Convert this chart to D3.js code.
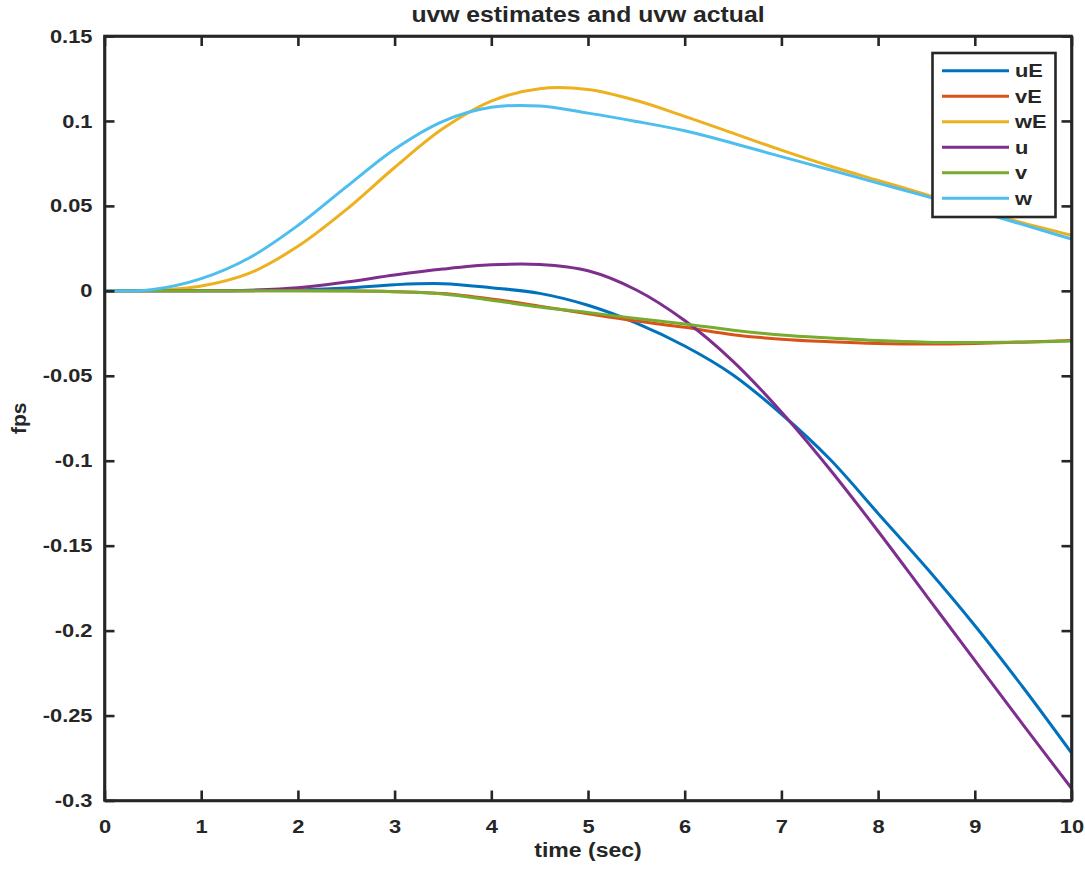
<!DOCTYPE html>
<html>
<head>
<meta charset="utf-8">
<script src="https://cdn.jsdelivr.net/npm/d3@7"></script>
<style>
  html, body { margin: 0; padding: 0; background: #ffffff; }
  svg { display: block; }
  text { font-family: "Liberation Sans", Arial, sans-serif; font-weight: bold; fill: #262626; }
</style>
</head>
<body>
<svg id="chart" width="1085" height="871"></svg>
<script>
// ---- data ----
const time = [0,0.5,1,1.5,2,2.5,3,3.5,4,4.5,5,5.5,6,6.5,7,7.5,8,8.5,9,9.5,10];
const uE = [0,0,0,0.0001,0.0005,0.0016,0.0036,0.0042,0.0018,-0.0015,-0.0085,-0.019,-0.0325,-0.0495,-0.0725,-0.099,-0.131,-0.163,-0.197,-0.2335,-0.272];
const vE = [0,0,0,0,0,0,-0.0005,-0.0016,-0.0048,-0.009,-0.0135,-0.0178,-0.0215,-0.0258,-0.0285,-0.0300,-0.031,-0.0313,-0.031,-0.0302,-0.0292];
const wE = [0,0.0002,0.0028,0.0104,0.0262,0.0478,0.0726,0.0955,0.1117,0.119,0.1185,0.112,0.1027,0.0928,0.0828,0.0735,0.065,0.0566,0.048,0.040,0.0327];
const u  = [0,0,0,0.0004,0.0018,0.0052,0.0093,0.0128,0.0153,0.0155,0.0118,0.0005,-0.0175,-0.0415,-0.0713,-0.105,-0.1415,-0.1795,-0.2175,-0.2555,-0.2928];
const v  = [0,0,0,0,0,-0.0001,-0.0005,-0.0018,-0.0055,-0.0095,-0.0128,-0.0163,-0.0195,-0.0232,-0.026,-0.0278,-0.0293,-0.0302,-0.0304,-0.0301,-0.0296];
const w  = [0,0.0008,0.0072,0.0195,0.0385,0.0612,0.0834,0.0998,0.108,0.1088,0.1046,0.0997,0.0942,0.0869,0.079,0.0713,0.0634,0.0556,0.0473,0.039,0.0305];

const seriesNames = ["uE","vE","wE","u","v","w"];
const seriesValues = [uE, vE, wE, u, v, w];
const seriesColors = ["#0072BD","#D95319","#EDB120","#7E2F8E","#77AC30","#4DBEEE"];

const xTicks = [0,1,2,3,4,5,6,7,8,9,10];
const yTicks = [0.15,0.1,0.05,0,-0.05,-0.1,-0.15,-0.2,-0.25,-0.3];
const yTickLabels = ["0.15","0.1","0.05","0","-0.05","-0.1","-0.15","-0.2","-0.25","-0.3"];

const titleText = "uvw estimates and uvw actual";
const xLabelText = "time (sec)";
const yLabelText = "fps";

// ---- layout ----
const pLeft = 104.5, pRight = 1071.5, pTop = 36, pBottom = 800.5;
const axisColor = "#262626";
const stretch = 1.15;

const svg = d3.select("#chart");
const x = d3.scaleLinear().domain([0, 10]).range([pLeft, pRight]);
const y = d3.scaleLinear().domain([-0.3, 0.15]).range([pBottom, pTop]);

// lines
const line = d3.line().x(d => x(d[0])).y(d => y(d[1])).curve(d3.curveCatmullRom.alpha(0.5));
const plot = svg.append("g");
seriesValues.forEach((vals, i) => {
  plot.append("path")
    .datum(time.map((t, j) => [t, vals[j]]))
    .attr("fill", "none")
    .attr("stroke", seriesColors[i])
    .attr("stroke-width", 3)
    .attr("stroke-linejoin", "round")
    .attr("d", line);
});

// axes
function styleAxis(g) {
  g.selectAll(".domain").attr("stroke", axisColor).attr("stroke-width", 2.6);
  g.selectAll(".tick line").attr("stroke", axisColor).attr("stroke-width", 2.6);
  g.selectAll(".tick text").attr("fill", axisColor)
    .style("font-size", "19px").style("font-weight", "bold")
    .style("font-family", '"Liberation Sans", Arial, sans-serif');
}

const gx = svg.append("g").attr("transform", `translate(0,${pBottom})`)
  .call(d3.axisBottom(x).tickValues(xTicks).tickFormat(d3.format("d")).tickSizeInner(-10).tickSizeOuter(0).tickPadding(19));
styleAxis(gx);
const gxTop = svg.append("g").attr("transform", `translate(0,${pTop})`)
  .call(d3.axisTop(x).tickValues(xTicks).tickFormat("").tickSizeInner(-10).tickSizeOuter(0));
styleAxis(gxTop);

const gy = svg.append("g").attr("transform", `translate(${pLeft},0)`)
  .call(d3.axisLeft(y).tickValues(yTicks).tickFormat((d, i) => yTickLabels[i]).tickSizeInner(-10).tickSizeOuter(0).tickPadding(12));
styleAxis(gy);
const gyRight = svg.append("g").attr("transform", `translate(${pRight},0)`)
  .call(d3.axisRight(y).tickValues(yTicks).tickFormat("").tickSizeInner(-10).tickSizeOuter(0));
styleAxis(gyRight);

svg.append("rect").attr("x", pLeft).attr("y", pTop).attr("width", pRight - pLeft).attr("height", pBottom - pTop)
  .attr("fill", "none").attr("stroke", axisColor).attr("stroke-width", 2.6);

// title & labels
svg.append("text").attr("class", "stretch").attr("x", (pLeft + pRight) / 2).attr("y", 22)
  .attr("text-anchor", "middle").style("font-size", "21.5px").text(titleText);
svg.append("text").attr("class", "stretch").attr("x", (pLeft + pRight) / 2).attr("y", 857)
  .attr("text-anchor", "middle").style("font-size", "20px").text(xLabelText);
svg.append("text").attr("transform", `translate(26,${(pTop + pBottom) / 2}) rotate(-90)`)
  .attr("text-anchor", "middle").style("font-size", "21px").text(yLabelText);

// legend
const lg = svg.append("g");
lg.append("rect").attr("x", 932.5).attr("y", 53).attr("width", 123).attr("height", 164)
  .attr("fill", "#ffffff").attr("stroke", axisColor).attr("stroke-width", 2.6);
seriesNames.forEach((name, i) => {
  const yy = 70.7 + i * 25.5;
  lg.append("line").attr("x1", 942).attr("x2", 1009).attr("y1", yy).attr("y2", yy)
    .attr("stroke", seriesColors[i]).attr("stroke-width", 3);
  lg.append("text").attr("class", "stretch").attr("x", 1015).attr("y", yy).attr("dy", "0.35em")
    .style("font-size", "19px").text(name);
});

// widen glyphs slightly, like the reference rendering
svg.selectAll("text.stretch, .tick text").each(function () {
  const len = this.getComputedTextLength();
  if (len > 0) {
    d3.select(this).attr("textLength", len * stretch).attr("lengthAdjust", "spacingAndGlyphs");
  }
});
</script>
</body>
</html>
